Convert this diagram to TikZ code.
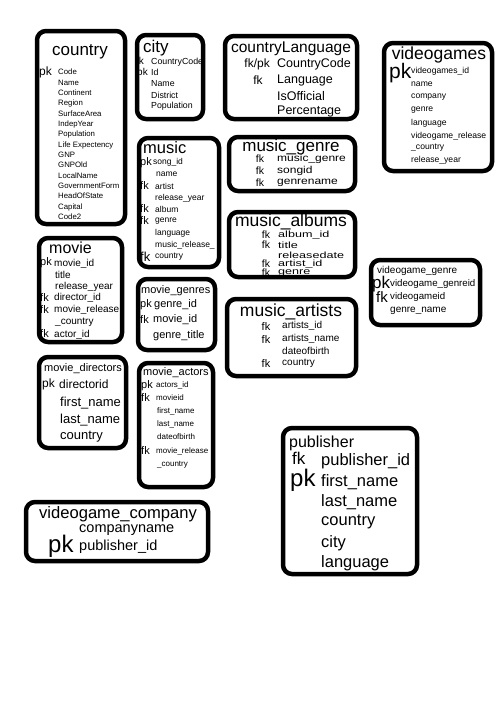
\documentclass[tikz,border=0pt]{standalone}
\usepackage{fontspec}
\setmainfont{Liberation Sans}
\usepackage{graphicx}
\usetikzlibrary{positioning}
\newcommand{\fs}[1]{\fontsize{#1}{#1}\selectfont}
\newcommand{\widetext}[2]{\scalebox{#1}[1]{#2}}
\tikzset{
  tbl/.style={draw=black,line width=4.5pt,rounded corners=9pt},
  ttl/.style={inner sep=0pt,font=\fs{17}},
  fld/.style={anchor=west,inner sep=0pt},
  key/.style={anchor=west,inner sep=0pt,font=\fs{11}},
  keyc/.style={inner sep=0pt,font=\fs{11}},
}
\begin{document}
\begin{tikzpicture}[x=1pt,y=-1pt]
  \useasboundingbox (0,0) rectangle (500,720);
  \fill[white] (0,0) rectangle (500,720);

  % country
  \draw[tbl] (37,31) rectangle (125,224);
  \node[ttl] (country) at (80,52) {country};
  \node[key,font=\fs{12}] (countrypk) at (39,72) {pk};
  \node[fld,font=\fs{7.8}] (cf1) at (58,72) {Code};
  \node[fld,font=\fs{7.8}] (cf2) at (58,83) {Name};
  \node[fld,font=\fs{7.8}] (cf3) at (58,93) {Continent};
  \node[fld,font=\fs{7.8}] (cf4) at (58,103) {Region};
  \node[fld,font=\fs{7.8}] (cf5) at (58,114) {SurfaceArea};
  \node[fld,font=\fs{7.8}] (cf6) at (58,124) {IndepYear};
  \node[fld,font=\fs{7.8}] (cf7) at (58,134) {Population};
  \node[fld,font=\fs{7.8}] (cf8) at (58,145) {Life Expectency};
  \node[fld,font=\fs{7.8}] (cf9) at (58,155) {GNP};
  \node[fld,font=\fs{7.8}] (cf10) at (58,165) {GNPOld};
  \node[fld,font=\fs{7.8}] (cf11) at (58,176) {LocalName};
  \node[fld,font=\fs{7.8}] (cf12) at (58,186) {GovernmentForm};
  \node[fld,font=\fs{7.8}] (cf13) at (58,196) {HeadOfState};
  \node[fld,font=\fs{7.8}] (cf14) at (58,207) {Capital};
  \node[fld,font=\fs{7.8}] (cf15) at (58,217) {Code2};

  % city
  \draw[tbl] (137,35) rectangle (203,119);
  \node[ttl,anchor=west] (city) at (143,48) {city};
  \node[key,font=\fs{10}] (cityfk) at (136,61) {fk};
  \node[fld,font=\fs{8.8}] (ctf1) at (151,62) {CountryCode};
  \node[key,font=\fs{10}] (citypk) at (137,73) {pk};
  \node[fld,font=\fs{8.8}] (ctf2) at (151,72) {Id};
  \node[fld,font=\fs{8.8}] (ctf3) at (151,84) {Name};
  \node[fld,font=\fs{8.8}] (ctf4) at (151,95) {District};
  \node[fld,font=\fs{8.8}] (ctf5) at (151,106) {Population};

  % countryLanguage
  \draw[tbl] (225,36) rectangle (357,119);
  \node[ttl,font=\fs{15.5}] (countrylang) at (291,49) {countryLanguage};
  \node[keyc,anchor=east,font=\fs{12}] (clfkpk) at (270,64) {fk/pk};
  \node[fld,font=\fs{12.5}] (clf1) at (277,64) {CountryCode};
  \node[keyc,font=\fs{12}] (clfk) at (258,80) {fk};
  \node[fld,font=\fs{12.5}] (clf2) at (277,80) {Language};
  \node[fld,font=\fs{12.5}] (clf3) at (277,96) {IsOfficial};
  \node[fld,font=\fs{12.5}] (clf4) at (277,111) {Percentage};

  % videogames
  \draw[tbl] (384,43) rectangle (492,171);
  \node[ttl,font=\fs{17.5}] (videogames) at (439,55) {videogames};
  \node[key,font=\fs{21}] (vgpk) at (389,73) {pk};
  \node[fld,font=\fs{8.6}] (vgf1) at (411,71) {videogames\_id};
  \node[fld,font=\fs{8.6}] (vgf2) at (411,84) {name};
  \node[fld,font=\fs{8.6}] (vgf3) at (411,97) {company};
  \node[fld,font=\fs{8.6}] (vgf4) at (411,110) {genre};
  \node[fld,font=\fs{8.6}] (vgf5) at (411,123) {language};
  \node[fld,font=\fs{8.6}] (vgf6) at (411,136) {videogame\_release};
  \node[fld,font=\fs{8.6}] (vgf7) at (411,148) {\_country};
  \node[fld,font=\fs{8.6}] (vgf8) at (411,160) {release\_year};

  % music
  \draw[tbl] (139,138) rectangle (219,267);
  \node[ttl,anchor=west,font=\fs{16.5}] (music) at (143,148) {music};
  \node[key] (mupk) at (140,163) {pk};
  \node[fld,font=\fs{8.5}] (muf1) at (153,162) {song\_id};
  \node[fld,font=\fs{8.5}] (muf2) at (156,174) {name};
  \node[key] (mufk1) at (140,186) {fk};
  \node[fld,font=\fs{8.5}] (muf3) at (155,186) {artist};
  \node[fld,font=\fs{8.5}] (muf4) at (155,198) {release\_year};
  \node[key] (mufk2) at (140,209) {fk};
  \node[fld,font=\fs{8.5}] (muf5) at (155,209) {album};
  \node[key] (mufk3) at (140,221) {fk};
  \node[fld,font=\fs{8.5}] (muf6) at (155,221) {genre};
  \node[fld,font=\fs{8.5}] (muf7) at (155,233) {language};
  \node[fld,font=\fs{8.5}] (muf8) at (155,245) {music\_release\_};
  \node[key,font=\fs{13}] (mufk4) at (140,257) {fk};
  \node[fld,font=\fs{8.5}] (muf9) at (155,257) {country};

  % music_genre
  \draw[tbl] (229,137) rectangle (355,191);
  \node[ttl] (musicgenre) at (291,147) {music\_genre};
  \node[keyc,font=\fs{10.5}] (mgfk1) at (260,159) {fk};
  \node[fld,font=\fs{10}] (mgf1) at (277,159) {\widetext{1.2}{music\_genre}};
  \node[keyc,font=\fs{10.5}] (mgfk2) at (260,171) {fk};
  \node[fld,font=\fs{10}] (mgf2) at (277,171) {\widetext{1.2}{songid}};
  \node[keyc,font=\fs{10.5}] (mgfk3) at (260,183) {fk};
  \node[fld,font=\fs{10}] (mgf3) at (277,183) {\widetext{1.2}{genrename}};

  % music_albums
  \draw[tbl] (229,212) rectangle (355,277);
  \node[ttl,font=\fs{17.5}] (musicalbums) at (291,222) {music\_albums};
  \node[keyc,font=\fs{10.5}] (mafk1) at (266,235) {fk};
  \node[fld,font=\fs{9}] (maf1) at (278,235) {\widetext{1.4}{album\_id}};
  \node[keyc,font=\fs{10.5}] (mafk2) at (266,245) {fk};
  \node[fld,font=\fs{9}] (maf2) at (278,245) {\widetext{1.4}{title}};
  \node[fld,font=\fs{9}] (maf3) at (278,255) {\widetext{1.4}{releasedate}};
  \node[keyc,font=\fs{10.5}] (mafk3) at (266,264) {fk};
  \node[fld,font=\fs{9}] (maf4) at (278,264) {\widetext{1.4}{artist\_id}};
  \node[keyc,font=\fs{10.5}] (mafk4) at (266,273) {fk};
  \node[fld,font=\fs{9}] (maf5) at (278,273) {\widetext{1.4}{genre}};

  % movie
  \draw[tbl] (39,238) rectangle (122,342);
  \node[ttl,anchor=west,font=\fs{16}] (movie) at (49,248) {movie};
  \node[key] (mvpk) at (40,263) {pk};
  \node[fld,font=\fs{10}] (mvf1) at (54,264) {movie\_id};
  \node[fld,font=\fs{10}] (mvf2) at (55,275) {title};
  \node[fld,font=\fs{10}] (mvf3) at (55,287) {release\_year};
  \node[key] (mvfk1) at (40,298) {fk};
  \node[fld,font=\fs{10}] (mvf4) at (54,298) {director\_id};
  \node[key] (mvfk2) at (40,310) {fk};
  \node[fld,font=\fs{10}] (mvf5) at (54,310) {movie\_release};
  \node[fld,font=\fs{10}] (mvf6) at (55,322) {\_country};
  \node[key] (mvfk3) at (40,334) {fk};
  \node[fld,font=\fs{10}] (mvf7) at (54,335) {actor\_id};

  % movie_genres
  \draw[tbl] (138,279) rectangle (215,350);
  \node[ttl,anchor=west,font=\fs{11}] (moviegenres) at (141,291) {movie\_genres};
  \node[key] (mgspk) at (140,305) {pk};
  \node[fld,font=\fs{11}] (mgsf1) at (154,305) {genre\_id};
  \node[key] (mgsfk) at (140,320) {fk};
  \node[fld,font=\fs{11}] (mgsf2) at (153,320) {movie\_id};
  \node[fld,font=\fs{11}] (mgsf3) at (153,336) {genre\_title};

  % music_artists
  \draw[tbl] (227,299) rectangle (356,376);
  \node[ttl,font=\fs{17.5}] (musicartists) at (291,312) {music\_artists};
  \node[keyc] (marfk1) at (266,327) {fk};
  \node[fld,font=\fs{10}] (marf1) at (282,326) {artists\_id};
  \node[keyc] (marfk2) at (266,340) {fk};
  \node[fld,font=\fs{10}] (marf2) at (282,339) {artists\_name};
  \node[fld,font=\fs{10}] (marf3) at (282,351) {dateofbirth};
  \node[keyc] (marfk3) at (266,364) {fk};
  \node[fld,font=\fs{10}] (marf4) at (282,363) {country};

  % videogame_genre
  \draw[tbl] (371,260) rectangle (480,325);
  \node[ttl,anchor=west,font=\fs{10}] (vggenre) at (377,271) {videogame\_genre};
  \node[key,font=\fs{17}] (vggpk) at (372,284) {pk};
  \node[fld,font=\fs{9.7}] (vggf1) at (390,284) {videogame\_genreid};
  \node[key,font=\fs{15}] (vggfk) at (376,297) {fk};
  \node[fld,font=\fs{9.7}] (vggf2) at (390,297) {videogameid};
  \node[fld,font=\fs{10}] (vggf3) at (390,311) {genre\_name};

  % movie_directors
  \draw[tbl] (39,357) rectangle (126,448);
  \node[ttl,anchor=west,font=\fs{11}] (moviedirectors) at (44,369) {movie\_directors};
  \node[key,font=\fs{12}] (mdpk) at (42,384) {pk};
  \node[fld,font=\fs{12}] (mdf1) at (59,384) {directorid};
  \node[fld,font=\fs{13}] (mdf2) at (60,403) {first\_name};
  \node[fld,font=\fs{13}] (mdf3) at (60,420) {last\_name};
  \node[fld,font=\fs{13}] (mdf4) at (60,437) {country};

  % movie_actors
  \draw[tbl] (139,363) rectangle (213,487);
  \node[ttl,anchor=west,font=\fs{11}] (movieactors) at (143,373) {movie\_actors};
  \node[key] (mapk) at (141,386) {pk};
  \node[fld,font=\fs{8}] (mactf1) at (156,385) {actors\_id};
  \node[key] (mafk) at (141,398) {fk};
  \node[fld,font=\fs{8}] (mactf2) at (156,398) {movieid};
  \node[fld,font=\fs{8}] (mactf3) at (157,411) {first\_name};
  \node[fld,font=\fs{8}] (mactf4) at (157,424) {last\_name};
  \node[fld,font=\fs{8}] (mactf5) at (157,437) {dateofbirth};
  \node[key] (mafk2) at (141,451) {fk};
  \node[fld,font=\fs{8}] (mactf6) at (156,451) {movie\_release};
  \node[fld,font=\fs{8}] (mactf7) at (157,465) {\_country};

  % publisher
  \draw[tbl] (283,428) rectangle (417,574);
  \node[ttl,anchor=west,font=\fs{16}] (publisher) at (289,443) {publisher};
  \node[key,font=\fs{17}] (pubfk) at (292,458) {fk};
  \node[fld,font=\fs{16.5}] (pubf1) at (321,461) {publisher\_id};
  \node[key,font=\fs{24}] (pubpk) at (290,480) {pk};
  \node[fld,font=\fs{16.5}] (pubf2) at (321,482) {first\_name};
  \node[fld,font=\fs{16.5}] (pubf3) at (321,502) {last\_name};
  \node[fld,font=\fs{16.5}] (pubf4) at (321,522) {country};
  \node[fld,font=\fs{16.5}] (pubf5) at (321,543) {city};
  \node[fld,font=\fs{16.5}] (pubf6) at (321,563) {language};

  % videogame_company
  \draw[tbl] (26,502) rectangle (208,561);
  \node[ttl,font=\fs{16.6}] (vgcompany) at (118,514) {videogame\_company};
  \node[fld,font=\fs{14.5}] (vgcf1) at (79,530) {companyname};
  \node[key,font=\fs{24}] (vgcpk) at (48,546) {pk};
  \node[fld,font=\fs{14.5}] (vgcf2) at (79,547) {publisher\_id};
\end{tikzpicture}
\end{document}
